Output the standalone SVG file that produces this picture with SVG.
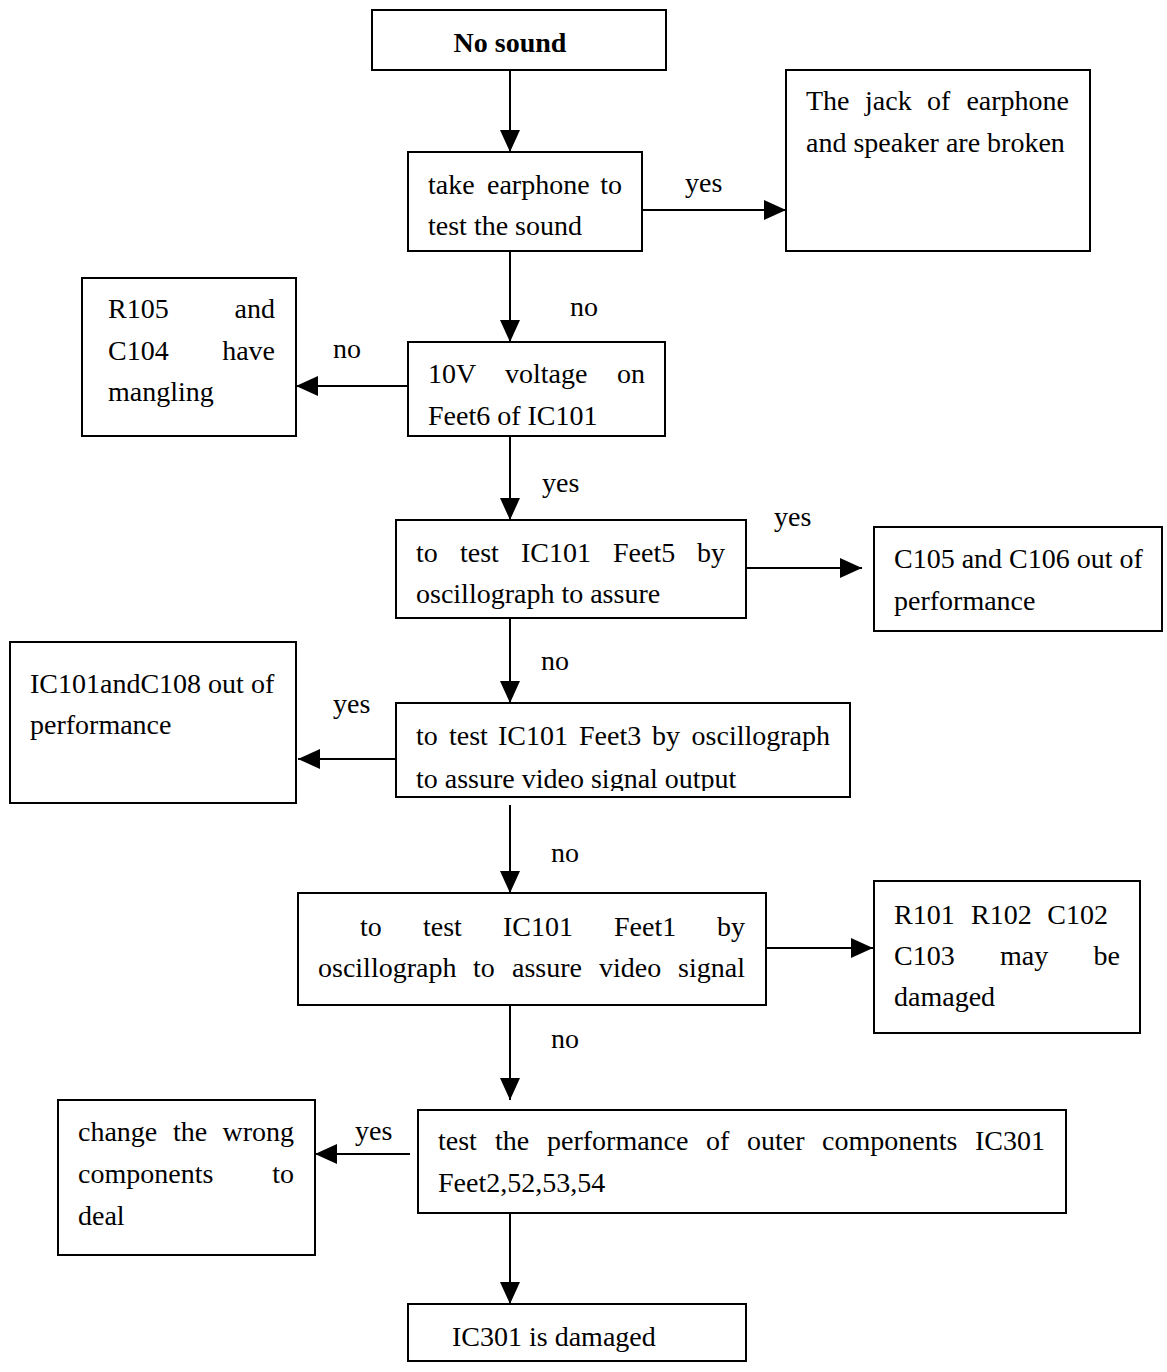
<svg xmlns="http://www.w3.org/2000/svg" width="1167" height="1372" viewBox="0 0 1167 1372">
<style>
.box{fill:#fff;stroke:#000;stroke-width:2}
text{font-family:"Liberation Serif","Times New Roman",serif;font-size:28px;fill:#000}
.e{text-anchor:end}
.ln{stroke:#000;stroke-width:2;fill:none}
</style>
<defs>
<marker id="ah" viewBox="0 0 22 20" refX="22" refY="10" markerWidth="22" markerHeight="20" markerUnits="userSpaceOnUse" orient="auto">
<path d="M0,0 L22,10 L0,20 Z" fill="#000"/>
</marker>
<clipPath id="c8"><rect x="396" y="700" width="456" height="91"/></clipPath>
</defs>
<rect width="1167" height="1372" fill="#fff"/>
<g id="connectors">
<line class="ln" x1="510" y1="70" x2="510" y2="152" marker-end="url(#ah)"/>
<line class="ln" x1="642" y1="210" x2="786" y2="210" marker-end="url(#ah)"/>
<text x="685" y="192">yes</text>
<line class="ln" x1="510" y1="251" x2="510" y2="342" marker-end="url(#ah)"/>
<text x="570" y="316">no</text>
<line class="ln" x1="408" y1="386" x2="296" y2="386" marker-end="url(#ah)"/>
<text x="333" y="358">no</text>
<line class="ln" x1="510" y1="436" x2="510" y2="520" marker-end="url(#ah)"/>
<text x="542" y="492">yes</text>
<line class="ln" x1="746" y1="568" x2="862" y2="568" marker-end="url(#ah)"/>
<text x="774" y="526">yes</text>
<line class="ln" x1="510" y1="618" x2="510" y2="703" marker-end="url(#ah)"/>
<text x="541" y="670">no</text>
<line class="ln" x1="396" y1="759" x2="298" y2="759" marker-end="url(#ah)"/>
<text x="333" y="713">yes</text>
<line class="ln" x1="510" y1="805" x2="510" y2="893" marker-end="url(#ah)"/>
<text x="551" y="862">no</text>
<line class="ln" x1="766" y1="948" x2="873" y2="948" marker-end="url(#ah)"/>
<line class="ln" x1="510" y1="993" x2="510" y2="1100" marker-end="url(#ah)"/>
<text x="551" y="1048">no</text>
<line class="ln" x1="410" y1="1154" x2="315" y2="1154" marker-end="url(#ah)"/>
<text x="355" y="1140">yes</text>
<line class="ln" x1="510" y1="1203" x2="510" y2="1304" marker-end="url(#ah)"/>
</g>
<g id="n1"><rect class="box" x="372" y="10" width="294" height="60"/>
<text x="510" y="52" text-anchor="middle" font-weight="bold">No sound</text></g>
<g id="n2"><rect class="box" x="408" y="152" width="234" height="99"/>
<text y="194"><tspan x="428">take</tspan><tspan x="487">earphone</tspan><tspan x="622" class="e">to</tspan></text>
<text x="428" y="235">test the sound</text></g>
<g id="n3"><rect class="box" x="786" y="70" width="304" height="181"/>
<text y="110"><tspan x="806">The</tspan><tspan x="865">jack</tspan><tspan x="927">of</tspan><tspan x="1069" class="e">earphone</tspan></text>
<text x="806" y="152">and speaker are broken</text></g>
<g id="n4"><rect class="box" x="408" y="342" width="257" height="94"/>
<text y="383"><tspan x="428">10V</tspan><tspan x="505">voltage</tspan><tspan x="645" class="e">on</tspan></text>
<text x="428" y="425">Feet6 of IC101</text></g>
<g id="n5"><rect class="box" x="82" y="278" width="214" height="158"/>
<text y="318"><tspan x="108">R105</tspan><tspan x="275" class="e">and</tspan></text>
<text y="360"><tspan x="108">C104</tspan><tspan x="275" class="e">have</tspan></text>
<text x="108" y="401">mangling</text></g>
<g id="n6"><rect class="box" x="396" y="520" width="350" height="98"/>
<text y="562"><tspan x="416">to</tspan><tspan x="460">test</tspan><tspan x="521">IC101</tspan><tspan x="613">Feet5</tspan><tspan x="725" class="e">by</tspan></text>
<text x="416" y="603">oscillograph to assure</text></g>
<g id="n7"><rect class="box" x="874" y="527" width="288" height="104"/>
<text x="894" y="568">C105 and C106 out of</text>
<text x="894" y="610">performance</text></g>
<g id="n8"><rect class="box" x="396" y="703" width="454" height="94"/>
<text y="745"><tspan x="416">to</tspan><tspan x="449">test</tspan><tspan x="498">IC101</tspan><tspan x="579">Feet3</tspan><tspan x="652">by</tspan><tspan x="830" class="e">oscillograph</tspan></text>
<text x="416" y="788" clip-path="url(#c8)">to assure video signal output</text></g>
<g id="n9"><rect class="box" x="10" y="642" width="286" height="161"/>
<text x="30" y="693">IC101andC108 out of</text>
<text x="30" y="734">performance</text></g>
<g id="n10"><rect class="box" x="298" y="893" width="468" height="112"/>
<text y="936"><tspan x="360">to</tspan><tspan x="423">test</tspan><tspan x="503">IC101</tspan><tspan x="614">Feet1</tspan><tspan x="745" class="e">by</tspan></text>
<text y="977"><tspan x="318">oscillograph</tspan><tspan x="473">to</tspan><tspan x="512">assure</tspan><tspan x="599">video</tspan><tspan x="745" class="e">signal</tspan></text></g>
<g id="n11"><rect class="box" x="874" y="881" width="266" height="152"/>
<text y="924"><tspan x="894">R101</tspan><tspan x="971">R102</tspan><tspan x="1108" class="e">C102</tspan></text>
<text y="965"><tspan x="894">C103</tspan><tspan x="1000">may</tspan><tspan x="1120" class="e">be</tspan></text>
<text x="894" y="1006">damaged</text></g>
<g id="n12"><rect class="box" x="418" y="1110" width="648" height="103"/>
<text y="1150"><tspan x="438">test</tspan><tspan x="495">the</tspan><tspan x="547">performance</tspan><tspan x="706">of</tspan><tspan x="747">outer</tspan><tspan x="822">components</tspan><tspan x="1045" class="e">IC301</tspan></text>
<text x="438" y="1192">Feet2,52,53,54</text></g>
<g id="n13"><rect class="box" x="58" y="1100" width="257" height="155"/>
<text y="1141"><tspan x="78">change</tspan><tspan x="173">the</tspan><tspan x="294" class="e">wrong</tspan></text>
<text y="1183"><tspan x="78">components</tspan><tspan x="294" class="e">to</tspan></text>
<text x="78" y="1225">deal</text></g>
<g id="n14"><rect class="box" x="408" y="1304" width="338" height="57"/>
<text x="452" y="1346">IC301 is damaged</text></g>
</svg>
